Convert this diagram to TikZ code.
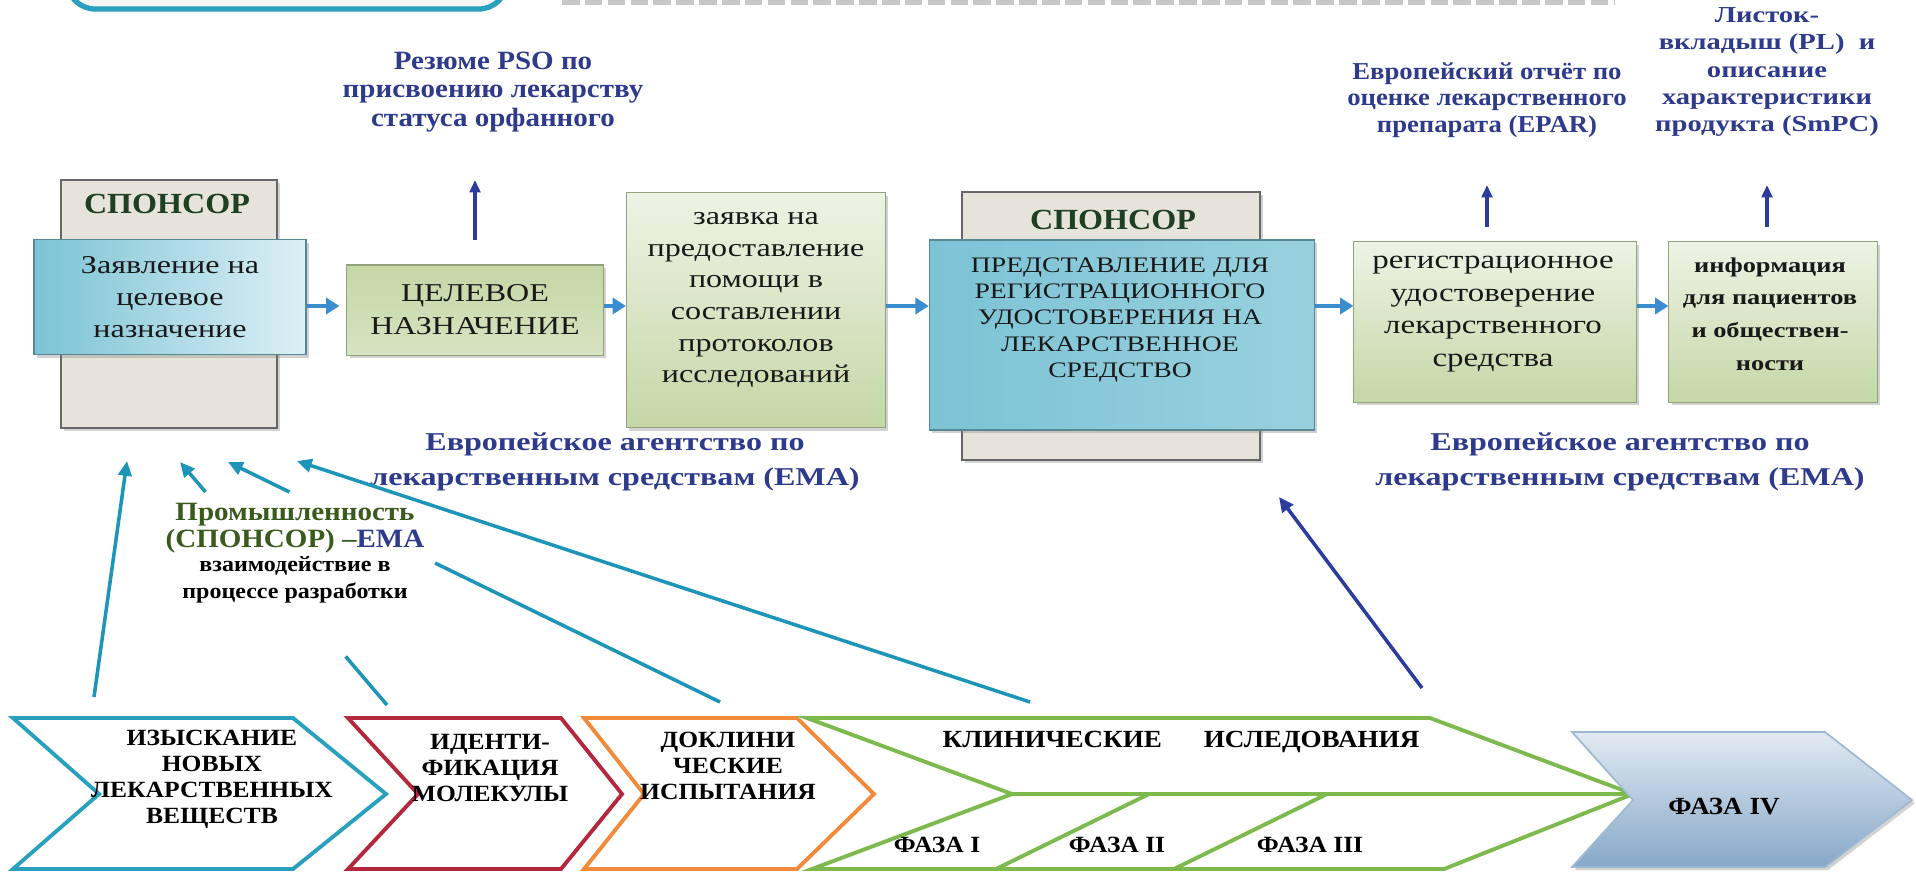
\documentclass[tikz,border=0pt]{standalone}
\usepackage{fontspec}
\setmainfont{Liberation Serif}[FakeStretch=1.25]
\newfontfamily\narrowfont{Liberation Serif}[FakeStretch=1.1]
\usetikzlibrary{arrows.meta,shadows}

\definecolor{sponsorgray}{HTML}{E6E4DA}
\definecolor{sponsorgreen}{HTML}{1F3F22}
\definecolor{labelblue}{HTML}{2E3A8C}
\definecolor{flowblue}{HTML}{3A8ED0}
\definecolor{upblue}{HTML}{2B3C9C}
\definecolor{linkteal}{HTML}{1D95B8}
\definecolor{cyandark}{HTML}{7CC3D5}
\definecolor{cyanlight}{HTML}{DCF0F5}
\definecolor{greendark}{HTML}{C4D7A6}
\definecolor{greenlight}{HTML}{EEF3E5}
\definecolor{chevteal}{HTML}{2AA0BF}
\definecolor{chevred}{HTML}{B3283C}
\definecolor{chevorange}{HTML}{F28A3C}
\definecolor{chevgreen}{HTML}{7DB94C}
\definecolor{phasetop}{HTML}{E2EAF2}
\definecolor{phasebot}{HTML}{86A8C8}
\definecolor{olivetext}{HTML}{3A5A1E}

\tikzset{
  boxshadow/.style={drop shadow={shadow xshift=0.8pt, shadow yshift=-0.9pt, opacity=0.35}},
  sponsor/.style={draw=black!60, fill=sponsorgray, line width=0.6pt, boxshadow},
  sponsorlabel/.style={text=sponsorgreen, font=\fontsize{8.3}{9}\narrowfont\bfseries},
  boxtext/.style={align=center, text=black!90, font=\fontsize{7.3}{9}\selectfont},
  cyanbox/.style={draw=cyandark!70!black, line width=0.4pt, left color=cyandark, right color=cyanlight, boxshadow, boxtext},
  greenbox/.style={draw=greendark!75!black, line width=0.3pt, top color=greenlight, bottom color=greendark, boxshadow, boxtext},
  flow/.style={draw=flowblue, line width=1.2pt, -{Triangle[length=3.8pt,width=4.6pt]}},
  uparrow/.style={draw=upblue, line width=0.9pt, -{Triangle[length=3.5pt,width=3pt]}},
  linkline/.style={draw=linkteal, line width=1pt},
  link/.style={linkline, -{Triangle[length=4.2pt,width=3.8pt]}},
  note/.style={text=labelblue, align=center},
  chevron/.style={line width=1.1pt, line join=miter},
  chevtext/.style={align=center, font=\fontsize{6.6}{7.4}\narrowfont\bfseries},
}

\begin{document}
\begin{tikzpicture}[x=0.01cm, y=-0.01cm]
\useasboundingbox (0,0) rectangle (1916,872);
\clip (0,0) rectangle (1916,872);
\fill[white] (0,0) rectangle (1916,872);

% обрезанная рамка и строка сверху
\draw[chevteal, line width=1.5pt, rounded corners=8pt, fill=black!3] (67,-40) rectangle (507,9);
\draw[black!22, line width=1.6pt, dash pattern=on 5pt off 1.5pt] (562,2) -- (1614,2);

% спонсор слева
\node[sponsor, minimum width=2.16cm, minimum height=2.48cm] (sp1) at (169,304) {};
\node[sponsorlabel] (sp1lab) at (167,204) {СПОНСОР};
\node[cyanbox, minimum width=2.72cm, minimum height=1.15cm] (app) at (170,297) {Заявление на\\целевое\\назначение};

% целевое назначение
\node[greenbox, top color=greendark, bottom color=greendark!70!white, minimum width=2.56cm, minimum height=0.9cm, font=\fontsize{7.3}{9.4}\selectfont] (target) at (475,310) {ЦЕЛЕВОЕ\\НАЗНАЧЕНИЕ};

% заявка на помощь
\node[greenbox, minimum width=2.59cm, minimum height=2.35cm] (advice) at (756,310) {};
\node[boxtext] (advicetext) at (756,300) {заявка на\\предоставление\\помощи в\\составлении\\протоколов\\исследований};

% спонсор справа
\node[sponsor, minimum width=2.98cm, minimum height=2.68cm] (sp2) at (1111,326) {};
\node[sponsorlabel] (sp2lab) at (1113,220) {СПОНСОР};
\node[cyanbox, left color=cyandark, middle color=cyanlight, right color=cyandark!70!cyanlight, minimum width=3.85cm, minimum height=1.9cm] (submit) at (1122,335) {};
\node[boxtext, font=\fontsize{6.3}{7.5}\selectfont] (submittext) at (1120,320) {ПРЕДСТАВЛЕНИЕ ДЛЯ\\РЕГИСТРАЦИОННОГО\\УДОСТОВЕРЕНИЯ НА\\ЛЕКАРСТВЕННОЕ\\СРЕДСТВО};

% удостоверение и информация
\node[greenbox, minimum width=2.82cm, minimum height=1.6cm] (auth) at (1495,322) {};
\node[boxtext, font=\fontsize{7.5}{9.3}\selectfont] (authtext) at (1493,314) {регистрационное\\удостоверение\\лекарственного\\средства};
\node[greenbox, minimum width=2.08cm, minimum height=1.6cm] (info) at (1773,322) {};
\node[boxtext, font=\fontsize{6}{9.3}\selectfont\bfseries] (infotext) at (1770,314) {информация\\для пациентов\\и обществен-\\ности};

% стрелки по ряду
\coordinate (row) at (0,306);
\draw[flow, shorten >=2pt] (app.east |- row) -- (target.west |- row);
\draw[flow] (target.east |- row) -- (advice.west |- row);
\draw[flow] (advice.east |- row) -- (submit.west |- row);
\draw[flow] (submit.east |- row) -- (auth.west |- row);
\draw[flow] (auth.east |- row) -- (info.west |- row);

% подписи сверху
\node[note, font=\fontsize{7.5}{8}\narrowfont\bfseries] (pso) at (493,92) {Резюме PSO по\\присвоению лекарству\\статуса орфанного};
\node[note, font=\fontsize{6.9}{7.5}\narrowfont\bfseries] (epar) at (1487,100) {Европейский отчёт по\\оценке лекарственного\\препарата (EPAR)};
\node[note, font=\fontsize{6.5}{7.7}\selectfont\bfseries] (smpc) at (1767,72) {Листок-\\вкладыш (PL)~ и\\описание\\характеристики\\продукта (SmPC)};

\draw[uparrow] (target.north |- 0,240) -- (target.north |- 0,180);
\draw[uparrow] (auth.north -| epar.south) ++(0,-14) -- (epar.south |- 0,185);
\draw[uparrow] (info.north -| smpc.south) ++(0,-14) -- (smpc.south |- 0,185);

% агентство
\node[note, font=\fontsize{7.3}{10}\selectfont\bfseries] (emaleft) at (615,462) {Европейское агентство по\\лекарственным средствам (EMA)};
\node[note, font=\fontsize{7.3}{10}\selectfont\bfseries] (emaright) at (1620,462) {Европейское агентство по\\лекарственным средствам (EMA)};

% взаимодействие
\node[align=center, font=\fontsize{7.5}{7.5}\narrowfont\bfseries] (industry) at (295,553)
  {\textcolor{olivetext}{Промышленность}\\\textcolor{olivetext}{(СПОНСОР) –}\textcolor{labelblue}{EMA}\\[-0.5pt]
   {\fontsize{6.2}{7.5}\selectfont взаимодействие в}\\{\fontsize{6.2}{7.5}\selectfont процессе разработки}};

% этапы разработки
\draw[chevron, draw=chevteal] (13,718) -- (293,718) -- (386,794) -- (293,869) -- (13,869) -- (99,794) -- cycle;
\node[chevtext] (search) at (212,779) {ИЗЫСКАНИЕ\\НОВЫХ\\ЛЕКАРСТВЕННЫХ\\ВЕЩЕСТВ};

\draw[chevron, draw=chevred] (348,718) -- (561,718) -- (622,794) -- (561,869) -- (348,869) -- (418,794) -- cycle;
\node[chevtext] (ident) at (490,768) {ИДЕНТИ-\\ФИКАЦИЯ\\МОЛЕКУЛЫ};

\draw[chevron, draw=chevorange] (584,718) -- (797,718) -- (874,794) -- (797,869) -- (584,869) -- (644,794) -- cycle;
\node[chevtext] (precl) at (728,766) {ДОКЛИНИ\\ЧЕСКИЕ\\ИСПЫТАНИЯ};

\draw[chevron, draw=chevgreen] (807,718) -- (1430,718) -- (1633,794) -- (1444,869) -- (812,869) -- (1012,794) -- cycle;
\draw[chevron, draw=chevgreen] (1012,794) -- (1633,794);
\draw[chevron, draw=chevgreen] (1149,794) -- (996,869);
\draw[chevron, draw=chevgreen] (1327,794) -- (1174,869);
\node[chevtext, font=\fontsize{7}{8}\narrowfont\bfseries] (clin) at (1181,742) {КЛИНИЧЕСКИЕ\hspace{1.7em}ИСЛЕДОВАНИЯ};
\node[chevtext] (ph1) at (937,845) {ФАЗА I};
\node[chevtext] (ph2) at (1117,845) {ФАЗА II};
\node[chevtext] (ph3) at (1310,845) {ФАЗА III};

\draw[line width=0.5pt, draw=phasebot!80, top color=phasetop, bottom color=phasebot, boxshadow]
  (1572,732) -- (1825,732) -- (1912,800) -- (1825,867) -- (1572,867) -- (1633,800) -- cycle;
\node[chevtext, font=\fontsize{7}{7.4}\narrowfont\bfseries] (ph4) at (1724,807) {ФАЗА IV};

% связи с этапами
\coordinate (searchtop) at (94,697);
\coordinate (identtop) at (387,705);
\coordinate (precltop) at (720,702);
\coordinate (clintop) at (1030,702);
\coordinate (clintop2) at (1422,688);
\coordinate (sp1a) at (127,461);
\coordinate (sp1b) at (180,462);
\coordinate (sp1c) at (228,462);
\coordinate (sp1d) at (297,461);
\coordinate (sp2a) at (1279,497);

\draw[link] (searchtop) -- (sp1a);
\path (identtop) -- (sp1b) coordinate[pos=0.2] (identgap1) coordinate[pos=0.877] (identgap2);
\draw[linkline] (identtop) -- (identgap1);
\draw[link] (identgap2) -- (sp1b);
\path (precltop) -- (sp1c) coordinate[pos=0.579] (preclgap1) coordinate[pos=0.875] (preclgap2);
\draw[linkline] (precltop) -- (preclgap1);
\draw[link] (preclgap2) -- (sp1c);
\draw[link] (clintop) -- (sp1d);
\draw[link, draw=upblue] (clintop2) -- (sp2a);
\end{tikzpicture}
\end{document}
